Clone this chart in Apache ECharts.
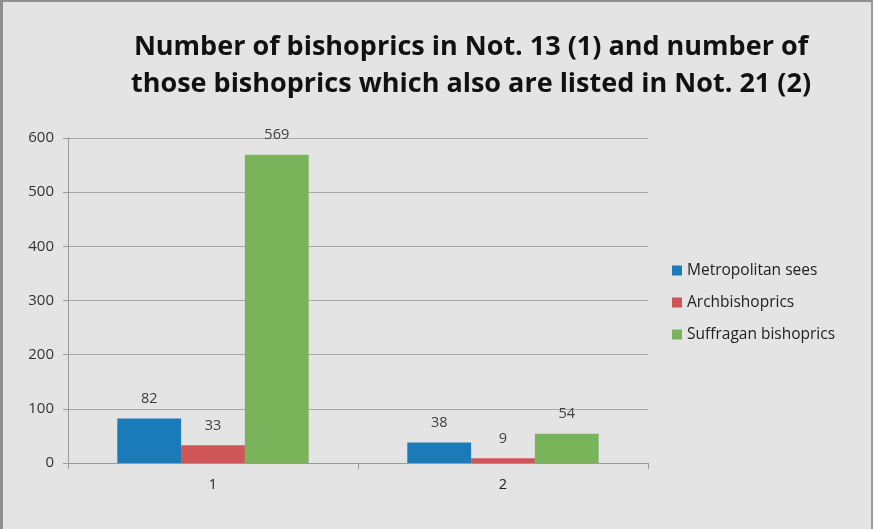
<!DOCTYPE html>
<html>
<head>
<meta charset="utf-8">
<script src="https://cdn.jsdelivr.net/npm/echarts@6/dist/echarts.min.js"></script>
<style>
  html, body { margin: 0; padding: 0; background: #e3e4e3; }
  #chart {
    width: 873px; height: 529px; box-sizing: border-box;
    border-top: 2px solid #8e8f8e; border-left: 3px solid #8e8f8e; border-right: 2px solid #9a9b9a;
  }
</style>
</head>
<body>
<div id="chart"></div>
<script>
// Category labels and series values
const categories = ['1', '2'];
const metropolitanSees = [82, 38];
const archbishoprics = [33, 9];
const suffraganBishoprics = [569, 54];
const yTicks = { min: 0, max: 600, interval: 100 };

const chart = echarts.init(document.getElementById('chart'), null, { renderer: 'canvas' });
const font = 'Open Sans';
const labelStyle = { show: true, position: 'top', distance: 12, color: '#404040', fontFamily: font, fontSize: 14.5 };

chart.setOption({
  backgroundColor: '#e3e4e3',
  animation: false,
  title: {
    text: 'Number of bishoprics in Not. 13 (1) and number of\nthose bishoprics which also are listed in Not. 21 (2)',
    left: 463, top: 22, textAlign: 'center',
    textStyle: { fontFamily: font, fontWeight: 'bold', fontSize: 27, lineHeight: 37, color: '#111' }
  },
  legend: {
    orient: 'vertical', left: 664, top: 255, itemGap: 15,
    itemWidth: 10, itemHeight: 10, icon: 'rect',
    textStyle: { fontFamily: font, fontSize: 15.5, lineHeight: 17, color: '#222' },
    data: ['Metropolitan sees', 'Archbishoprics', 'Suffragan bishoprics']
  },
  grid: { left: 65, right: 223, top: 136, bottom: 66 },
  xAxis: {
    type: 'category', data: categories,
    axisLine: { lineStyle: { color: '#9a9a9a' } },
    axisTick: { show: true, length: 6, alignWithLabel: false, lineStyle: { color: '#9a9a9a' } },
    axisLabel: { fontFamily: font, fontSize: 14.5, color: '#222', margin: 14 }
  },
  yAxis: {
    type: 'value', min: yTicks.min, max: yTicks.max, interval: yTicks.interval,
    axisLine: { show: true, lineStyle: { color: '#9a9a9a' } },
    axisTick: { show: true, length: 5, inside: false, lineStyle: { color: '#9a9a9a' } },
    splitLine: { lineStyle: { color: '#a8a8a8' } },
    axisLabel: { fontFamily: font, fontSize: 15, color: '#333', margin: 14 }
  },
  series: [
    { name: 'Metropolitan sees', type: 'bar', data: metropolitanSees, barGap: '0%', barCategoryGap: '34%',
      itemStyle: { color: '#1a7bb8' }, label: labelStyle },
    { name: 'Archbishoprics', type: 'bar', data: archbishoprics,
      itemStyle: { color: '#cf5556' }, label: labelStyle },
    { name: 'Suffragan bishoprics', type: 'bar', data: suffraganBishoprics,
      itemStyle: { color: '#79b45b' }, label: labelStyle }
  ]
});
</script>
</body>
</html>
